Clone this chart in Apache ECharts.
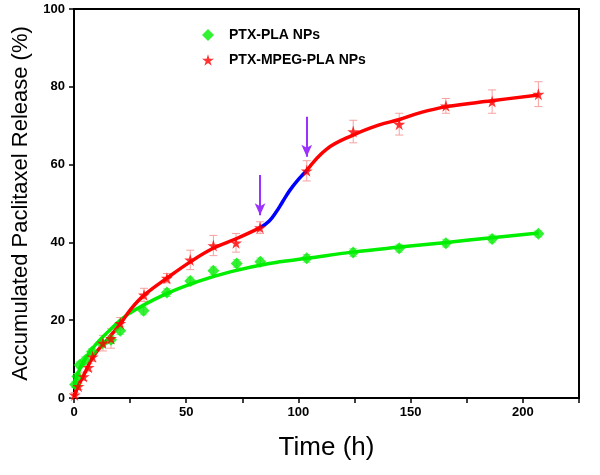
<!DOCTYPE html>
<html><head><meta charset="utf-8">
<script src="https://cdn.jsdelivr.net/npm/echarts@6/dist/echarts.min.js"></script>
<style>html,body{margin:0;padding:0;background:#fff}#c{width:600px;height:475px}</style>
</head><body><div id="c"></div>
<script>
// Measured data (time in h, release in %)
const plaX = [0.5, 1.5, 2.5, 5, 8, 12.5, 16.5, 20.6, 31, 41.4, 51.8, 62.1, 72.5, 83, 103.7, 124.4, 144.9, 165.7, 186.3, 206.9];
const plaY = [3.5, 5.5, 8.5, 9.8, 11.9, 14, 15, 17.3, 22.4, 27.1, 30.1, 32.7, 34.6, 35, 35.9, 37.4, 38.5, 39.8, 40.9, 42.2];
const plaErr = [0.8, 0.8, 0.8, 0.8, 0.8, 0.8, 1, 1, 1, 1, 1, 1, 1, 1, 1, 1, 1, 1, 1, 0.8];

const mpegX = [0.3, 2, 4.3, 6.5, 8.3, 12.9, 16.5, 20.6, 31.2, 41.4, 51.8, 62.1, 72.2, 82.9, 103.7, 124.4, 144.9, 165.7, 186.3, 206.9];
const mpegY = [0.8, 3, 5.5, 7.9, 10.6, 14.1, 15.3, 19.2, 26.5, 30.8, 35.5, 39.2, 39.9, 43.8, 58.4, 68.5, 70.4, 75.1, 76.2, 78.1];
const mpegErr = [0.6, 0.8, 1, 1, 1.2, 2, 2.5, 1.5, 1.7, 1.2, 2.5, 2.6, 2.4, 1.5, 2.6, 2.9, 2.8, 1.9, 3, 3.2];

// Fitted curves
const fitPlaX = [0, 1, 3, 6, 10, 16, 24, 40, 55, 70, 87, 104, 124, 145, 166, 186, 207];
const fitPlaY = [2.5, 5, 8, 11, 14, 17.5, 21.5, 26.5, 29.9, 32.5, 34.6, 35.9, 37.5, 38.8, 40, 41.2, 42.4];
const fitRed1X = [0, 2, 4.3, 8.7, 16, 20.6, 25, 31, 41.4, 51.8, 62, 72.5, 83];
const fitRed1Y = [0.3, 3.2, 5.8, 10.8, 15.8, 19, 22.6, 26.3, 30.8, 35, 38.5, 41, 43.8];
const fitBlueX = [83, 87, 90.3, 93, 96.3, 100, 103.7];
const fitBlueY = [43.8, 45.5, 48, 50.5, 53.5, 56.2, 58.5];
const fitRed2X = [103.7, 112.6, 124.4, 136, 145, 154, 166, 186, 207];
const fitRed2Y = [58.5, 64, 67.6, 70.2, 71.6, 73.3, 74.9, 76.4, 77.9];

// Arrows (x, yStart, yEnd)
const arrows = [[82.9, 57.3, 47], [103.7, 72.3, 62]];

const xTicks = [0, 50, 100, 150, 200];
const yTicks = [0, 20, 40, 60, 80, 100];

const zip = (a, b) => a.map((v, i) => [v, b[i]]);
const errData = (xs, ys, es) => xs.map((v, i) => [v, ys[i] - es[i], ys[i] + es[i]]);

function errRender(color) {
  return function (params, api) {
    const x = api.value(0);
    const lo = api.coord([x, api.value(1)]);
    const hi = api.coord([x, api.value(2)]);
    const w = 4;
    const st = { stroke: color, lineWidth: 1 };
    return { type: 'group', children: [
      { type: 'line', shape: { x1: lo[0], y1: lo[1], x2: hi[0], y2: hi[1] }, style: st },
      { type: 'line', shape: { x1: lo[0] - w, y1: lo[1], x2: lo[0] + w, y2: lo[1] }, style: st },
      { type: 'line', shape: { x1: hi[0] - w, y1: hi[1], x2: hi[0] + w, y2: hi[1] }, style: st }
    ]};
  };
}

const chart = echarts.init(document.getElementById('c'), null, { renderer: 'canvas' });
const fontF = '"Liberation Sans", Arial, sans-serif';
const GREEN = '#00ee00', RED = '#ff0000', BLUE = '#0000ff', PURPLE = '#9b30ff';
const STAR = 'path://M50,0 L61,35 L98,35 L68,57 L79,91 L50,70 L21,91 L32,57 L2,35 L39,35 Z';

chart.setOption({
  animation: false,
  textStyle: { fontFamily: fontF },
  grid: { left: 74, right: 21, top: 9, bottom: 77, show: true, borderColor: '#000', borderWidth: 2 },
  legend: {
    orient: 'vertical', left: 197, top: 23, itemGap: 11, itemWidth: 12, itemHeight: 12,
    textStyle: { fontFamily: fontF, fontWeight: 'bold', fontSize: 14, color: '#000', padding: [0, 0, 0, 10] },
    data: [
      { name: 'PTX-PLA NPs', icon: 'diamond', itemStyle: { color: GREEN } },
      { name: 'PTX-MPEG-PLA NPs', icon: STAR, itemStyle: { color: RED } }
    ]
  },
  xAxis: {
    type: 'value', min: 0, max: 225, interval: 50,
    name: 'Time (h)', nameLocation: 'middle', nameGap: 37,
    nameTextStyle: { fontSize: 26, color: '#000', fontFamily: fontF },
    axisLine: { lineStyle: { color: '#000', width: 2 } },
    axisTick: { length: 5, lineStyle: { color: '#000', width: 1.5 } },
    minorTick: { show: true, splitNumber: 2, length: 5, lineStyle: { color: '#000', width: 1.5 } },
    splitLine: { show: false },
    axisLabel: { margin: 8, fontSize: 13, fontWeight: 'bold', color: '#000', showMaxLabel: false,
      formatter: v => xTicks.includes(v) ? String(v) : '' }
  },
  yAxis: {
    type: 'value', min: 0, max: 100, interval: 20,
    name: 'Accumulated Paclitaxel Release (%)', nameLocation: 'middle', nameGap: 40,
    nameTextStyle: { fontSize: 22, color: '#000', fontFamily: fontF },
    axisLine: { lineStyle: { color: '#000', width: 2 } },
    axisTick: { length: 5, lineStyle: { color: '#000', width: 1.5 } },
    splitLine: { show: false },
    axisLabel: { margin: 9, fontSize: 13, fontWeight: 'bold', color: '#000',
      formatter: v => yTicks.includes(v) ? String(v) : '' }
  },
  series: [
    { type: 'custom', name: 'errPla', renderItem: errRender('#9ff09f'), data: errData(plaX, plaY, plaErr), z: 1, silent: true },
    { type: 'custom', name: 'errMpeg', renderItem: errRender('#f7a0a0'), data: errData(mpegX, mpegY, mpegErr), z: 1, silent: true },
    { type: 'line', name: 'fitPla', data: zip(fitPlaX, fitPlaY), smooth: 0.4, showSymbol: false, lineStyle: { color: GREEN, width: 3.5 }, z: 3 },
    { type: 'line', name: 'fitRed1', data: zip(fitRed1X, fitRed1Y), smooth: 0.4, showSymbol: false, lineStyle: { color: RED, width: 3.5 }, z: 3 },
    { type: 'line', name: 'fitBlue', data: zip(fitBlueX, fitBlueY), smooth: 0.4, showSymbol: false, lineStyle: { color: BLUE, width: 3.5 }, z: 3 },
    { type: 'line', name: 'fitRed2', data: zip(fitRed2X, fitRed2Y), smooth: 0.4, showSymbol: false, lineStyle: { color: RED, width: 3.5 }, z: 3,
      markLine: {
        silent: true, symbol: ['none', 'arrow'], symbolSize: [8, 12],
        lineStyle: { color: PURPLE, width: 2, type: 'solid' }, label: { show: false },
        data: arrows.map(a => [{ coord: [a[0], a[1]] }, { coord: [a[0], a[2]] }])
      }
    },
    { type: 'scatter', name: 'PTX-PLA NPs', data: zip(plaX, plaY), symbol: 'diamond', symbolSize: 12, itemStyle: { color: GREEN }, z: 4 },
    { type: 'scatter', name: 'PTX-MPEG-PLA NPs', data: zip(mpegX, mpegY), symbol: STAR, symbolSize: 12, itemStyle: { color: RED }, z: 4 }
  ]
});
</script></body></html>
